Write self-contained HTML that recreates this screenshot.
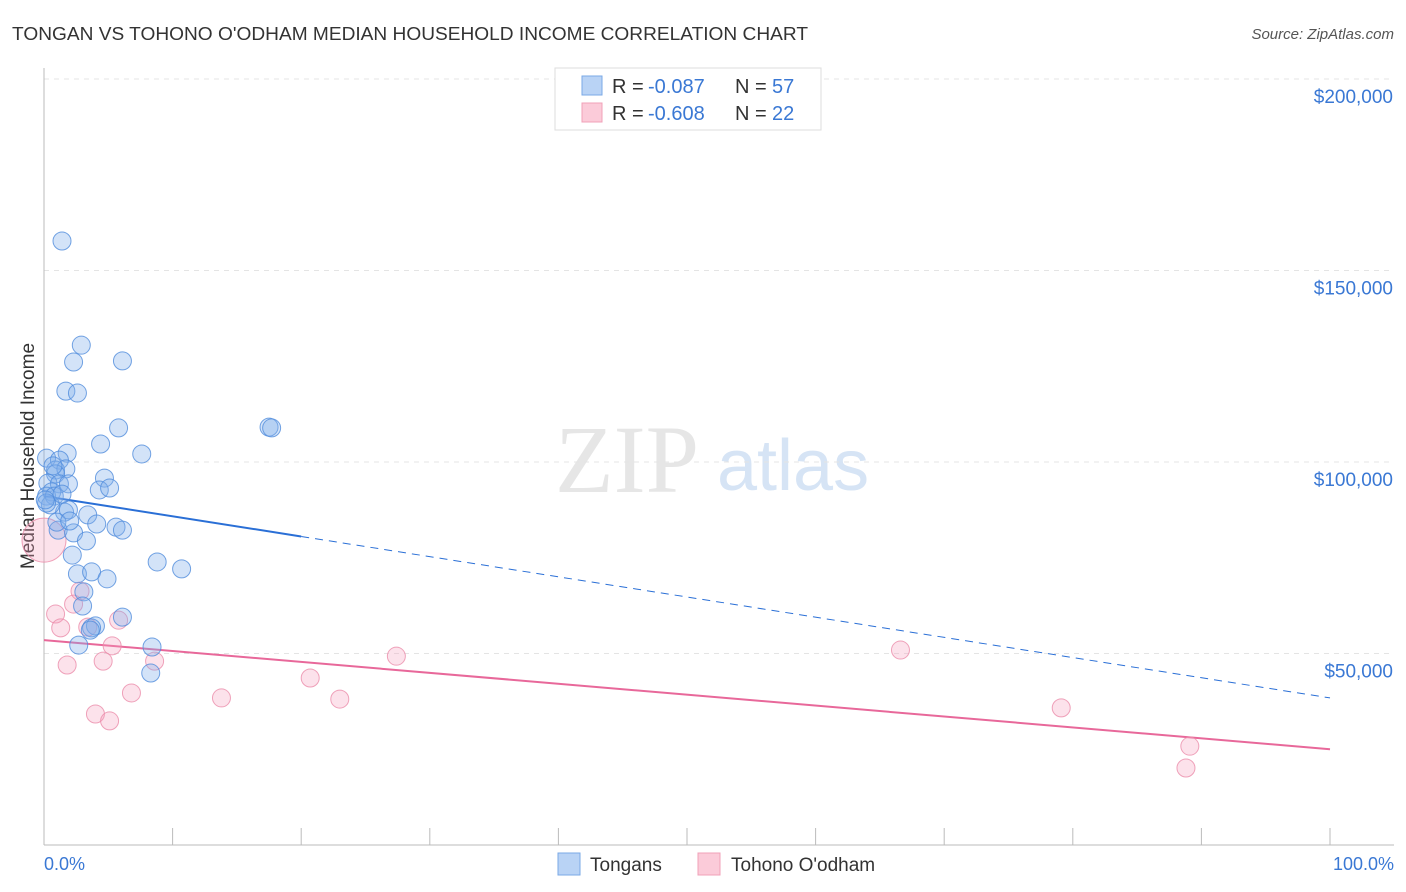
<!DOCTYPE html>
<html><head><meta charset="utf-8"><style>
body{margin:0;background:#fff;font-family:"Liberation Sans",sans-serif;}
svg{display:block}
</style></head><body>
<svg id="chart" width="1406" height="892">
<text x="12" y="40" font-size="18" fill="#333" textLength="796" lengthAdjust="spacingAndGlyphs">TONGAN VS TOHONO O'ODHAM MEDIAN HOUSEHOLD INCOME CORRELATION CHART</text>
<text x="1394" y="39" font-size="15" fill="#555" font-style="italic" text-anchor="end">Source: ZipAtlas.com</text>
<text x="555" y="492" font-size="96" fill="#e6e6e6" font-family="Liberation Serif,serif">ZIP</text>
<text x="717" y="490" font-size="72" fill="#d6e4f5">atlas</text>
<g id="grid"></g>
<line x1="44" y1="68" x2="44" y2="845" stroke="#bbb"/>
<line x1="44" y1="845" x2="1394" y2="845" stroke="#bbb"/>
<text transform="translate(34,456) rotate(-90)" font-size="19" fill="#333" text-anchor="middle">Median Household Income</text>
<text x="44" y="870" font-size="18" fill="#3a78d4">0.0%</text>
<text x="1394" y="870" font-size="18" fill="#3a78d4" text-anchor="end">100.0%</text>
<g id="lines"></g>
<g id="pts"></g>
<g>
<rect x="555" y="68" width="266" height="62" fill="#fff" stroke="#ddd"/>
<rect x="582" y="76" width="20" height="19" fill="#b9d3f5" stroke="#7aa8e6"/>
<text x="612" y="93" font-size="20" fill="#333">R =</text>
<text x="648" y="93" font-size="20" fill="#3a78d4">-0.087</text>
<text x="735" y="93" font-size="20" fill="#333">N =</text>
<text x="772" y="93" font-size="20" fill="#3a78d4">57</text>
<rect x="582" y="103" width="20" height="19" fill="#fbcbd9" stroke="#f0a0b8"/>
<text x="612" y="120" font-size="20" fill="#333">R =</text>
<text x="648" y="120" font-size="20" fill="#3a78d4">-0.608</text>
<text x="735" y="120" font-size="20" fill="#333">N =</text>
<text x="772" y="120" font-size="20" fill="#3a78d4">22</text>
</g>
<g>
<rect x="558" y="853" width="22" height="22" fill="#b9d3f5" stroke="#7aa8e6"/>
<text x="590" y="871" font-size="19" fill="#333">Tongans</text>
<rect x="698" y="853" width="22" height="22" fill="#fbcbd9" stroke="#f0a0b8"/>
<text x="731" y="871" font-size="19" fill="#333">Tohono O'odham</text>
</g>
</svg>
<script>
const yTicks=[50,100,150,200];
const yTickLabels=["$50,000","$100,000","$150,000","$200,000"];
const xTicks=[0,10,20,30,40,50,60,70,80,90,100];
const blueX=[1.4,2.9,2.3,6.1,1.7,2.6,17.5,17.7,5.8,4.4,7.6,1.8,0.2,1.2,0.9,1.7,0.9,4.7,0.3,1.2,1.9,4.3,5.1,0.6,0.2,0.8,1.6,1.9,0.5,3.4,4.1,5.6,6.1,1.1,2.3,3.3,2.2,8.8,10.7,2.6,3.7,4.9,3.1,3.0,6.1,4.0,3.7,3.6,8.4,2.7,8.3,0.2,0.1,1.0,2.0,1.4,0.7];
const blueY=[157.7,130.5,126.1,126.4,118.5,118.0,109.1,108.9,108.9,104.7,102.1,102.3,101.0,100.5,97.9,98.2,96.9,95.8,94.5,94.3,94.3,92.7,93.2,92.2,91.1,91.1,86.9,87.5,88.8,86.2,83.8,83.0,82.2,82.2,81.5,79.4,75.7,73.9,72.1,70.8,71.3,69.5,66.1,62.4,59.5,57.2,56.7,56.1,51.7,52.2,44.9,89.3,90.1,84.3,84.6,91.6,99.0];
const pinkX=[0,0.9,1.3,2.3,2.8,3.4,1.8,4.6,5.3,5.8,8.6,6.8,4.0,5.1,13.8,20.7,23.0,27.4,66.6,79.1,89.1,88.8];
const pinkY=[79.6,60.3,56.7,62.9,66.3,56.9,47.0,48.0,52.0,58.7,48.0,39.7,34.2,32.4,38.4,43.6,38.1,49.3,50.9,35.8,25.8,20.1];
const blueTrend=[91.1,38.4];
const pinkTrend=[53.5,25.0];
const blueSolidEnd=20;
const X=v=>44+v*12.86, Y=v=>845-v*3.83;
const NS="http://www.w3.org/2000/svg";
function mk(t,a,p){const e=document.createElementNS(NS,t);for(const k in a)e.setAttribute(k,a[k]);p.appendChild(e);return e;}
const grid=document.getElementById('grid');
yTicks.forEach((v,i)=>{
 const l=mk('line',{x1:44,x2:1394,y1:Y(v),y2:Y(v),stroke:'#e4e4e4','stroke-dasharray':'5,5'},grid);
 
 
 const t=mk('text',{x:1393,y:Y(v)+24,'font-size':19,fill:'#3a78d4','text-anchor':'end'},grid);
 t.textContent=yTickLabels[i];
 
 
});
xTicks.forEach(v=>{
 const l=mk('line',{x1:X(v),x2:X(v),y1:828,y2:845,stroke:'#bbb'},grid);
 
 
});
const lines=document.getElementById('lines');
const by=x=>blueTrend[0]+(blueTrend[1]-blueTrend[0])*x/100;
let a=mk('line',{x1:X(0),y1:Y(by(0)),x2:X(blueSolidEnd),y2:Y(by(blueSolidEnd)),stroke:'#2a6fd6','stroke-width':2},lines);


a=mk('line',{x1:X(blueSolidEnd),y1:Y(by(blueSolidEnd)),x2:X(100),y2:Y(by(100)),stroke:'#2a6fd6','stroke-width':1,'stroke-dasharray':'8,6'},lines);


a=mk('line',{x1:X(0),y1:Y(pinkTrend[0]),x2:X(100),y2:Y(pinkTrend[1]),stroke:'#e8689a','stroke-width':2},lines);


const pts=document.getElementById('pts');
pinkX.forEach((x,i)=>{
 const c=mk('circle',{cx:X(x),cy:Y(pinkY[i]),r:i===0?22:9,fill:'rgba(245,160,190,0.3)',stroke:'rgba(235,140,170,0.8)','stroke-width':1},pts);
 
 
});
blueX.forEach((x,i)=>{
 const c=mk('circle',{cx:X(x),cy:Y(blueY[i]),r:9,fill:'rgba(130,175,235,0.35)',stroke:'rgba(80,140,220,0.8)','stroke-width':1},pts);
 
 
});
</script>
</body></html>
